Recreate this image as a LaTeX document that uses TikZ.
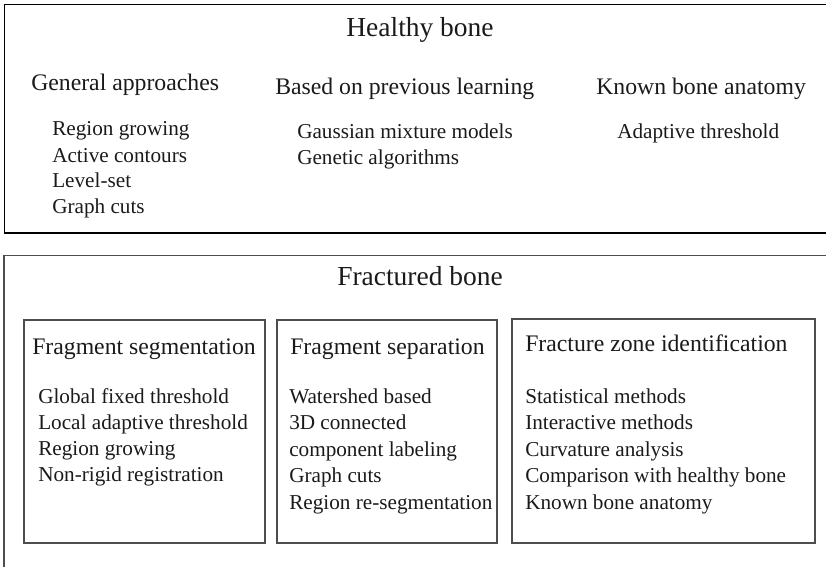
\documentclass[tikz,border=0pt]{standalone}
\usepackage{fontspec}
\setmainfont{Liberation Serif}
\definecolor{ink}{HTML}{1A1A1A}
\definecolor{frame}{HTML}{4D4D4D}
\tikzset{
  title/.style={inner sep=0pt,anchor=base,font=\fontsize{20.6}{24}\selectfont,text=ink},
  group/.style={inner sep=0pt,anchor=base west,font=\fontsize{17.8}{21}\selectfont,text=ink},
  item/.style={inner sep=0pt,anchor=base west,font=\fontsize{15.9}{19}\selectfont,text=ink},
  panel/.style={draw=frame,line width=1pt},
  cell/.style={draw=frame,line width=0.9pt}
}

\begin{document}
\begin{tikzpicture}[x=0.75pt,y=-0.75pt]
  \useasboundingbox (0,0) rectangle (826,567);
  % Healthy bone: three families of methods
  \draw[panel,draw=black,line width=1.2pt] (4.5,4.5) rectangle (850,233);
  \node[title] (healthy) at (420,37) {Healthy bone};
  \node[group] (general) at (31,91) {General approaches};
  \node[group] (learning) at (275,95) {Based on previous learning};
  \node[group] (anatomy) at (596,95) {Known bone anatomy};
  \foreach \t [count=\i from 0] in {Region growing,Active contours,Level-set,Graph cuts}
    \node[item] (general-\i) at (52,136+26*\i) {\t};
  \foreach \t [count=\i from 0] in {Gaussian mixture models,Genetic algorithms}
    \node[item] (learning-\i) at (297,139+26*\i) {\t};
  \node[item] (anatomy-0) at (617,139) {Adaptive threshold};

  % Fractured bone: three stages, one box each
  \draw[panel] (4,255.5) rectangle (850,600);
  \node[title] (fractured) at (420,286) {Fractured bone};
  \draw[cell] (24,320) rectangle (265,543);
  \draw[cell] (277,320) rectangle (497,543);
  \draw[cell] (512,319) rectangle (815,543);
  \node[group] (seg) at (32,354) {Fragment segmentation};
  \node[group] (sep) at (290,354) {Fragment separation};
  \node[group] (zone) at (525,351) {Fracture zone identification};
  \foreach \t [count=\i from 0] in {Global fixed threshold,Local adaptive threshold,Region growing,Non-rigid registration}
    \node[item] (seg-\i) at (38,403+26.3*\i) {\t};
  \foreach \t [count=\i from 0] in {Watershed based,3D connected,component labeling,Graph cuts,Region re-segmentation}
    \node[item] (sep-\i) at (289,403+26.5*\i) {\t};
  \foreach \t [count=\i from 0] in {Statistical methods,Interactive methods,Curvature analysis,Comparison with healthy bone,Known bone anatomy}
    \node[item] (zone-\i) at (525,403+26.5*\i) {\t};
\end{tikzpicture}
\end{document}
